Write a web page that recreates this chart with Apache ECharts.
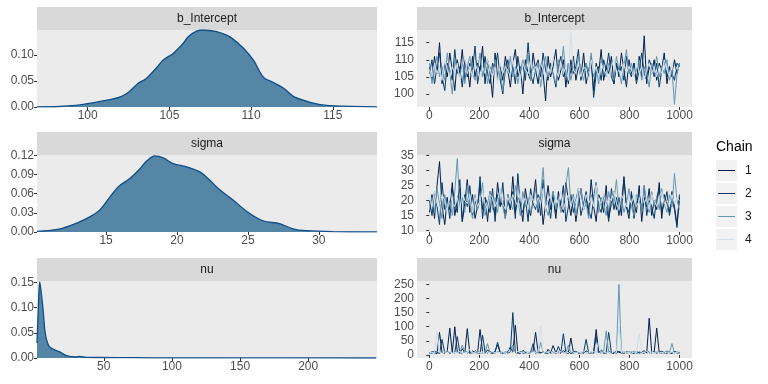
<!DOCTYPE html>
<html><head><meta charset="utf-8">
<script src="https://cdn.jsdelivr.net/npm/echarts@6/dist/echarts.min.js"></script>
<style>html,body{margin:0;padding:0;background:#fff}#c{width:768px;height:384px}</style>
</head><body><div id="c"></div>
<script>
const params = ['b_Intercept', 'sigma', 'nu'];
const chainNames = ['1', '2', '3', '4'];
const chainColors = ['#011f4b', '#03396c', '#6497b1', '#d1e1ec'];

// density curves (x, density)
const densBX = [96.9, 98.26, 99.28, 100, 101.33, 102.05, 102.56, 103.07, 103.59, 104.2, 104.61, 105.23, 105.84, 106.15, 106.66, 107.07, 107.89, 108.5, 108.91, 109.53, 110.14, 110.76, 111.37, 111.99, 112.6, 113.42, 114.24, 115.06, 117.7];
const densBY = [0.0003, 0.001, 0.003, 0.0064, 0.014, 0.020, 0.030, 0.045, 0.055, 0.075, 0.090, 0.103, 0.122, 0.135, 0.146, 0.148, 0.145, 0.138, 0.130, 0.113, 0.090, 0.057, 0.047, 0.036, 0.020, 0.011, 0.0045, 0.002, 0.0003];
const densSX = [10.13, 11.77, 12.94, 13.88, 14.58, 15.28, 15.87, 16.69, 17.39, 17.86, 18.45, 19.03, 19.73, 20.67, 21.61, 22.31, 23.01, 23.95, 25.0, 26.06, 27.23, 28.17, 29.1, 30.98, 34.1];
const densSY = [0.001, 0.005, 0.014, 0.024, 0.035, 0.055, 0.071, 0.084, 0.099, 0.111, 0.119, 0.116, 0.107, 0.102, 0.094, 0.081, 0.066, 0.050, 0.031, 0.0176, 0.013, 0.005, 0.002, 0.0005, 0.0002];
const densNX = [1, 2, 3, 4.2, 5.5, 6.7, 7.9, 9.9, 12.3, 17.7, 22.6, 29.9, 32.4, 37, 47, 71.5, 96, 145, 250];
const densNY = [0.03, 0.10, 0.151, 0.128, 0.095, 0.056, 0.0375, 0.023, 0.018, 0.012, 0.0046, 0.002, 0.0033, 0.0013, 0.001, 0.0006, 0.0003, 0.0001, 0.00003];

// trace values: 100 draws per chain, read across iterations 1..1000
const bInt1 = [108,104,111,106,115,103,109,105,112,107,101,110,106,113,104,108,102,111,105,109,107,114,103,110,106,99,112,105,108,104,111,107,102,109,113,105,108,100,110,106,104,112,107,103,109,106,98,111,105,108,113,104,107,110,102,109,106,111,104,108,105,112,103,107,110,101,109,106,113,104,108,106,111,103,109,105,112,107,102,110,106,109,104,111,105,117,103,108,106,110,104,109,107,112,103,108,105,110,106,109];
const bInt2 = [106,110,103,108,112,105,101,109,107,104,113,106,108,102,110,105,109,107,114,103,108,105,111,106,103,109,107,112,104,100,107,110,105,108,103,111,106,109,104,115,106,103,108,110,105,112,107,104,109,106,102,108,111,105,107,103,110,106,108,113,104,107,109,105,111,99,106,108,104,110,107,112,105,103,109,106,108,104,111,107,105,109,103,107,112,106,104,110,108,105,109,102,107,111,105,108,106,104,109,108];
const bInt3 = [109,103,107,111,105,108,104,112,106,100,110,107,105,109,103,108,111,106,104,107,112,105,109,103,108,106,110,104,107,101,109,106,111,105,108,103,107,110,106,112,104,108,106,109,102,107,111,105,108,106,103,110,107,114,105,109,104,108,106,111,107,104,109,106,112,105,108,103,110,107,105,109,106,104,111,107,103,108,113,106,109,105,107,110,104,108,106,102,109,107,111,105,108,106,110,104,107,97,106,109];
const bInt4 = [107,105,109,106,108,104,110,107,105,108,106,109,104,107,111,106,108,105,109,107,104,108,106,110,107,105,108,103,109,106,108,107,105,110,106,108,104,109,107,106,110,105,108,106,109,107,104,108,106,111,107,105,109,106,108,104,118,107,106,109,105,108,107,104,110,106,108,105,109,107,106,104,108,110,106,107,105,109,106,108,107,105,110,106,108,104,107,109,106,108,105,108,106,110,107,105,109,106,108,107];

const sig1 = [16,22,14,25,33,18,12,21,17,26,15,20,24,13,19,27,16,22,14,18,25,17,21,13,23,19,15,26,18,20,14,22,17,28,16,21,19,13,24,18,15,20,27,16,22,12,19,25,17,21,14,23,18,16,26,20,15,22,13,19,24,17,21,15,27,18,13,22,20,16,25,14,19,23,17,21,15,28,18,14,22,19,16,25,13,21,18,24,15,20,17,26,14,22,19,16,23,18,12,21];
const sig2 = [20,15,23,18,12,26,17,21,14,24,19,16,27,13,22,18,25,15,20,17,28,14,21,19,16,24,13,22,18,26,15,20,17,23,14,29,18,16,21,13,24,19,17,22,15,27,18,20,14,23,16,21,19,25,13,18,22,16,20,24,15,19,23,17,14,21,26,18,16,22,19,13,24,17,21,15,20,27,18,16,23,14,19,22,17,25,15,20,18,14,21,24,16,19,23,15,20,17,11,22];
const sig3 = [18,21,16,24,19,14,22,17,20,15,23,34,18,21,16,25,19,14,22,17,20,26,15,19,23,17,21,16,24,18,14,22,19,17,25,20,15,23,18,21,16,19,24,17,22,31,18,15,20,23,17,21,16,19,25,31,18,22,15,20,24,17,19,14,22,18,26,16,21,19,15,23,18,20,27,17,21,16,19,24,18,15,22,20,17,25,19,16,23,18,21,17,24,19,16,22,18,29,20,17];
const sig4 = [21,18,23,19,17,22,20,16,24,19,18,21,17,23,20,19,22,16,21,18,20,23,19,17,22,21,18,20,24,19,17,21,19,22,20,18,23,19,21,17,22,20,18,21,19,24,17,20,22,18,21,19,23,17,20,22,18,21,19,24,20,17,22,19,21,18,25,20,19,22,18,21,20,23,19,17,22,20,18,21,19,22,18,20,24,19,21,17,22,20,18,21,23,19,20,18,22,19,21,20];

const nu1 = [5,12,8,4,80,9,6,15,95,7,100,10,6,22,8,93,5,14,9,7,90,11,6,18,8,5,13,36,7,9,6,12,28,9,105,7,5,16,10,8,6,14,80,9,7,12,5,20,8,33,7,10,6,15,9,5,60,8,12,7,9,6,14,8,5,11,90,7,18,9,6,12,8,5,16,9,7,13,6,10,8,5,12,7,9,15,6,130,8,11,95,7,10,6,14,8,5,12,9,7];
const nu2 = [8,6,14,9,5,55,7,12,6,10,8,65,9,5,13,7,10,6,15,8,5,70,9,7,12,6,10,45,8,5,11,7,9,150,8,6,12,5,10,7,9,40,6,13,8,10,7,5,14,9,6,30,8,75,7,11,5,9,13,6,8,10,55,7,9,6,65,8,12,5,9,80,7,10,6,13,8,5,11,9,7,12,6,10,8,5,14,9,7,11,6,9,13,8,5,10,7,12,6,9];
const nu3 = [6,9,5,12,7,10,8,14,6,9,7,11,5,35,8,12,6,9,7,13,8,6,10,40,7,9,5,12,8,6,10,7,13,35,9,6,11,8,5,10,7,12,8,6,45,9,7,11,5,8,10,6,12,9,7,35,8,5,11,9,6,13,8,7,10,5,12,9,6,11,85,8,6,10,7,250,9,12,6,8,11,7,9,5,10,8,13,6,9,7,12,8,5,10,7,9,40,6,11,8];
const nu4 = [7,10,6,85,9,5,11,8,12,6,9,7,13,5,10,8,20,6,11,9,7,12,5,10,8,14,6,9,7,11,5,25,8,10,6,13,9,7,12,8,6,10,9,12,105,7,11,8,14,6,9,7,12,5,10,8,15,9,6,11,8,13,7,10,6,12,9,50,8,11,7,10,6,14,8,100,9,12,7,10,6,11,8,75,9,7,13,6,10,8,12,7,9,6,11,8,10,7,9,12];

const densTicksX = [[100,105,110,115],[15,20,25,30],[50,100,150,200]];
const densTicksY = [[0,0.05,0.10],[0,0.03,0.06,0.09,0.12],[0,0.05,0.10,0.15]];
const traceTicksX = [0,200,400,600,800,1000];
const traceTicksY = [[100,105,110,115],[10,15,20,25,30,35],[0,50,100,150,200,250]];

const densRangeX = [[96.9,117.7],[10.13,34.1],[1,250.5]];
const densRangeY = [[0,0.148],[0,0.1205],[0,0.153]];
const traceRangeY = [[96.2,118.7],[9.5,35.2],[-11,262]];

const densX = [densBX, densSX, densNX];
const densY = [densBY, densSY, densNY];
const traces = [[bInt1,bInt2,bInt3,bInt4],[sig1,sig2,sig3,sig4],[nu1,nu2,nu3,nu4]];

const FONT = 'Liberation Sans, Arial, Helvetica, sans-serif';
const rowTop = [30, 155, 281];
const rowH = 77;
const L = {left: 37, width: 340}, R = {left: 417, width: 275};

const grids = [], xAxes = [], yAxes = [], series = [], graphic = [];
function axisCommon(ticks, fmt) {
  return {
    axisLine: {show: false},
    splitLine: {show: false},
    axisTick: {show: true, length: 3, lineStyle: {color: '#333333', width: 1}, customValues: ticks},
    axisLabel: {color: '#4d4d4d', fontSize: 12, fontFamily: FONT, margin: 3, customValues: ticks, formatter: fmt}
  };
}
for (let r = 0; r < 3; r++) {
  // density
  grids.push({left: L.left, width: L.width, top: rowTop[r], height: rowH, show: true, backgroundColor: '#ebebeb', borderWidth: 0});
  let gi = grids.length - 1;
  xAxes.push(Object.assign({type: 'value', gridIndex: gi, min: densRangeX[r][0], max: densRangeX[r][1]}, axisCommon(densTicksX[r], v => String(v))));
  yAxes.push(Object.assign({type: 'value', gridIndex: gi, min: densRangeY[r][0], max: densRangeY[r][1]}, axisCommon(densTicksY[r], v => v.toFixed(2))));
  series.push({
    type: 'line', xAxisIndex: gi, yAxisIndex: gi, smooth: 0.35, showSymbol: false, symbol: 'none',
    data: densX[r].map((x, i) => [x, densY[r][i]]),
    lineStyle: {color: '#0d4d8a', width: 1.3},
    areaStyle: {color: '#5586a5', opacity: 1, origin: 'start'},
    clip: true, silent: true
  });
  // trace
  grids.push({left: R.left, width: R.width, top: rowTop[r], height: rowH, show: true, backgroundColor: '#ebebeb', borderWidth: 0});
  gi = grids.length - 1;
  xAxes.push(Object.assign({type: 'value', gridIndex: gi, min: -49, max: 1050}, axisCommon(traceTicksX, v => String(v))));
  yAxes.push(Object.assign({type: 'value', gridIndex: gi, min: traceRangeY[r][0], max: traceRangeY[r][1]}, axisCommon(traceTicksY[r], v => String(v))));
  traces[r].forEach((vals, c) => {
    series.push({
      type: 'line', xAxisIndex: gi, yAxisIndex: gi, showSymbol: false, symbol: 'none',
      name: chainNames[c],
      data: vals.map((v, i) => [Math.round(1 + i * 999 / (vals.length - 1)), v]),
      lineStyle: {color: chainColors[c], width: 1},
      silent: true, z: 2 + c
    });
  });
  // strips
  [L, R].forEach(p => {
    graphic.push({type: 'rect', shape: {x: p.left, y: rowTop[r] - 23, width: p.width, height: 23}, style: {fill: '#d9d9d9'}, silent: true});
    graphic.push({type: 'text', x: p.left + p.width / 2, y: rowTop[r] - 11.5, style: {text: params[r], fill: '#1a1a1a', font: '12px ' + FONT, align: 'center', verticalAlign: 'middle'}, silent: true});
  });
}
// legend
graphic.push({type: 'text', x: 716, y: 147, style: {text: 'Chain', fill: '#000000', font: '14px ' + FONT, align: 'left', verticalAlign: 'middle'}, silent: true});
chainNames.forEach((n, i) => {
  const y0 = 160 + i * 23;
  graphic.push({type: 'rect', shape: {x: 716, y: y0, width: 21, height: 21}, style: {fill: '#f2f2f2'}, silent: true});
  graphic.push({type: 'line', shape: {x1: 718, y1: y0 + 10.5, x2: 735, y2: y0 + 10.5}, style: {stroke: chainColors[i], lineWidth: 1}, silent: true});
  graphic.push({type: 'text', x: 745, y: y0 + 10.5, style: {text: n, fill: '#1a1a1a', font: '12px ' + FONT, align: 'left', verticalAlign: 'middle'}, silent: true});
});

const chart = echarts.init(document.getElementById('c'), null, {renderer: 'canvas'});
chart.setOption({
  animation: false,
  backgroundColor: '#ffffff',
  grid: grids, xAxis: xAxes, yAxis: yAxes, series: series, graphic: graphic
});
</script></body></html>
